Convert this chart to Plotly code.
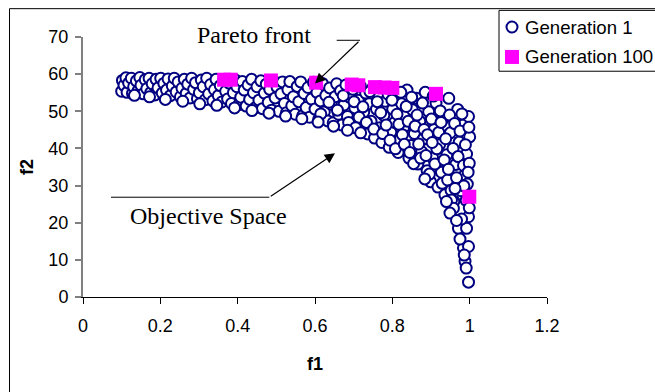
import plotly.graph_objects as go

# ---- data -------------------------------------------------------------
# Generation 1 population (objective space)
gen1_f1 = [
    0.100, 0.102, 0.106, 0.111, 0.114, 0.118, 0.125, 0.128, 0.131, 0.138,
    0.142, 0.147, 0.150, 0.156, 0.161, 0.165, 0.171, 0.175, 0.179, 0.186,
    0.189, 0.194, 0.201, 0.205, 0.209, 0.216, 0.220, 0.226, 0.231, 0.236,
    0.241, 0.246, 0.252, 0.256, 0.262, 0.267, 0.271, 0.277, 0.281, 0.286,
    0.291, 0.296, 0.301, 0.306, 0.311, 0.316, 0.320, 0.325, 0.330, 0.336,
    0.340, 0.344, 0.350, 0.355, 0.359, 0.364, 0.369, 0.374, 0.378, 0.384,
    0.389, 0.393, 0.398, 0.403, 0.408, 0.412, 0.417, 0.422, 0.427, 0.431,
    0.436, 0.441, 0.446, 0.450, 0.455, 0.460, 0.464, 0.469, 0.474, 0.479,
    0.483, 0.488, 0.493, 0.497, 0.502, 0.507, 0.512, 0.516, 0.521, 0.526,
    0.530, 0.535, 0.540, 0.544, 0.549, 0.554, 0.558, 0.563, 0.568, 0.572,
    0.577, 0.582, 0.586, 0.591, 0.596, 0.600, 0.605, 0.610, 0.614, 0.619,
    0.624, 0.628, 0.633, 0.638, 0.642, 0.647, 0.652, 0.656, 0.661, 0.666,
    0.670, 0.675, 0.680, 0.684, 0.689, 0.694, 0.698, 0.703, 0.708, 0.712,
    0.717, 0.722, 0.726, 0.731, 0.736, 0.740, 0.745, 0.750, 0.754, 0.759,
    0.764, 0.768, 0.773, 0.778, 0.782, 0.787, 0.792, 0.796, 0.801, 0.806,
    0.810, 0.815, 0.820, 0.824, 0.829, 0.834, 0.838, 0.843, 0.848, 0.852,
    0.857, 0.862, 0.866, 0.871, 0.876, 0.880, 0.885, 0.890, 0.894, 0.899,
    0.904, 0.908, 0.913, 0.918, 0.922, 0.927, 0.932, 0.936, 0.941, 0.946,
    0.950, 0.955, 0.959, 0.964, 0.969, 0.973, 0.978, 0.983, 0.987, 0.992,
    0.997, 1.000,
    0.615, 0.636, 0.658, 0.673, 0.687, 0.701, 0.714, 0.705,
    0.724, 0.733, 0.742, 0.752, 0.761, 0.770, 0.775, 0.784, 0.789, 0.794,
    0.799, 0.808, 0.812, 0.817, 0.822, 0.826, 0.831, 0.836, 0.841, 0.845,
    0.850, 0.855, 0.859, 0.864, 0.868, 0.873, 0.878, 0.882, 0.887, 0.891,
    0.896, 0.901, 0.906, 0.910, 0.915, 0.920, 0.924, 0.929, 0.934, 0.938,
    0.943, 0.948, 0.952, 0.957, 0.961, 0.966, 0.970, 0.975, 0.980, 0.984,
    0.989, 0.994, 0.998, 0.999, 0.996, 0.991, 0.985, 0.962, 0.945, 0.926,
    0.903, 0.884,
    0.953, 0.958, 0.949, 0.940, 0.971, 0.992, 0.984, 0.997, 0.988, 0.991,
    0.997, 0.997, 0.979, 0.966, 0.975, 0.986, 0.999,
    0.133, 0.172, 0.213, 0.258, 0.302, 0.346, 0.392, 0.437, 0.481, 0.524,
    0.566, 0.608, 0.648, 0.684, 0.718,
]
gen1_f2 = [
    55.4, 58.3, 57.0, 59.0, 55.1, 57.6, 58.9, 54.8, 56.6, 58.2,
    55.5, 59.1, 57.0, 54.7, 58.5, 56.1, 58.9, 55.0, 57.4, 54.4,
    58.6, 56.3, 58.9, 54.9, 57.5, 55.7, 58.7, 54.2, 56.8, 58.9,
    55.2, 57.9, 53.9, 56.2, 58.6, 54.8, 57.3, 53.6, 58.9, 55.9,
    57.7, 53.4, 55.0, 58.4, 56.6, 53.1, 58.9, 54.7, 57.2, 52.8,
    55.8, 58.6, 54.2, 56.9, 52.5, 58.4, 55.4, 53.3, 57.6, 52.1,
    55.0, 58.5, 56.6, 51.8, 53.8, 58.0, 55.7, 51.4, 57.1, 53.2,
    58.6, 55.0, 51.0, 56.6, 53.0, 58.2, 50.7, 54.9, 57.3, 52.4,
    55.9, 50.3, 58.1, 53.6, 56.5, 50.0, 54.7, 57.9, 52.1, 49.6,
    55.8, 58.0, 51.5, 53.9, 49.2, 56.7, 52.6, 57.9, 48.8, 54.8,
    51.0, 56.4, 48.4, 53.3, 57.8, 50.6, 55.1, 47.9, 52.8, 57.5,
    49.8, 54.3, 47.4, 56.3, 51.9, 46.9, 53.9, 57.4, 49.2, 55.5,
    46.3, 51.7, 57.1, 48.6, 53.8, 45.7, 55.9, 50.9, 47.7, 53.0,
    56.8, 45.0, 49.8, 54.9, 43.9, 52.0, 47.3, 56.4, 42.8, 50.6,
    54.0, 45.6, 41.6, 48.9, 52.7, 56.1, 40.3, 44.4, 50.6, 47.0,
    54.4, 38.9, 42.4, 52.0, 45.6, 48.8, 55.7, 37.4, 40.8, 50.4,
    44.0, 53.5, 35.8, 47.3, 39.1, 42.5, 55.1, 34.0, 49.9, 31.0,
    37.5, 45.1, 52.2, 29.6, 41.0, 33.6, 48.0, 27.5, 38.3, 53.5,
    44.2, 30.9, 25.8, 35.7, 50.5, 41.7, 28.6, 46.3, 32.8, 38.5,
    48.6, 43.1,
    49.3, 52.4, 50.3, 54.2, 47.0, 52.6, 48.4, 45.6,
    51.2, 47.0, 55.3, 45.2, 52.6, 49.6, 44.0, 46.3, 54.6, 42.2,
    53.0, 39.9, 49.2, 46.5, 55.1, 43.7, 41.1, 51.3, 47.3, 38.9,
    53.8, 35.9, 46.0, 49.0, 41.2, 37.4, 52.2, 45.1, 38.1, 43.7,
    33.1, 47.9, 54.1, 35.8, 39.9, 44.3, 50.1, 30.6, 36.9, 42.6,
    31.5, 49.0, 28.7, 40.0, 46.7, 32.1, 37.8, 44.7, 49.3, 35.4,
    41.0, 30.4, 45.7, 36.0, 33.6, 26.0, 29.9, 29.2, 34.4, 47.0,
    41.6, 31.8,
    26.1, 23.9, 22.6, 25.7, 18.5, 18.5, 13.2, 13.6, 9.6, 7.8,
    4.0, 21.6, 21.0, 20.6, 15.6, 11.3, 24.0,
    54.3, 53.9, 53.2, 52.7, 52.0, 51.6, 50.9, 50.2, 49.5, 48.7,
    48.0, 47.1, 46.0, 44.9, 44.2,
]

# Generation 100 population (converged onto the Pareto front)
gen100_f1 = [0.365, 0.382, 0.486, 0.603, 0.695, 0.712, 0.755, 0.780, 0.800, 0.913, 0.999]
gen100_f2 = [58.5, 58.5, 58.3, 57.7, 57.2, 57.0, 56.5, 56.4, 56.3, 54.7, 27.0]

x_tickvals = [0, 0.2, 0.4, 0.6, 0.8, 1.0, 1.2]
x_ticktext = ["0", "0.2", "0.4", "0.6", "0.8", "1", "1.2"]
y_tickvals = [0, 10, 20, 30, 40, 50, 60, 70]
y_ticktext = ["0", "10", "20", "30", "40", "50", "60", "70"]

series_names = ["Generation 1", "Generation 100"]

# ---- layout geometry (pixels) -------------------------------------------
W, H = 655, 392
L, R, T, B = 83, 108, 36.7, 94.7
PW, PH = W - L - R, H - T - B
X_MAX, Y_MAX = 1.2, 70

NAVY = "#000080"
MAGENTA = "#FF00FF"
SANS = "Arial, 'Liberation Sans', sans-serif"
SERIF = "'Times New Roman', 'Liberation Serif', serif"


def px_x(px):
    """pixel column -> f1 data value"""
    return (px - L) / PW * X_MAX


def px_y(py):
    """pixel row -> f2 data value"""
    return (H - B - py) / PH * Y_MAX


def paper_x(px):
    return (px - L) / PW


def paper_y(py):
    return (H - B - py) / PH


fig = go.Figure()

fig.add_trace(go.Scatter(
    x=gen1_f1, y=gen1_f2, mode="markers", name=series_names[0],
    marker=dict(symbol="circle", size=11, color="white",
                line=dict(color=NAVY, width=2)),
    showlegend=False, hoverinfo="x+y",
))
fig.add_trace(go.Scatter(
    x=gen100_f1, y=gen100_f2, mode="markers", name=series_names[1],
    marker=dict(symbol="square", size=14, color=MAGENTA, line=dict(width=0)),
    showlegend=False, hoverinfo="x+y",
))

shapes = []
annotations = []

# chart-area frame
shapes.append(dict(type="rect", xref="paper", yref="paper",
                   x0=paper_x(9.5), x1=paper_x(W + 50),
                   y0=paper_y(H + 50), y1=paper_y(8.3),
                   line=dict(color="black", width=1), fillcolor="rgba(0,0,0,0)",
                   layer="below"))

# callout: Pareto front
shapes.append(dict(type="line", xref="x", yref="y",
                   x0=px_x(336.7), y0=px_y(40), x1=px_x(360), y1=px_y(40),
                   line=dict(color="black", width=1)))
annotations.append(dict(x=px_x(315), y=px_y(83.3), xref="x", yref="y",
                        ax=px_x(360), ay=px_y(40), axref="x", ayref="y",
                        text="", showarrow=True, arrowhead=2, arrowsize=1.7,
                        arrowwidth=1.2, arrowcolor="black"))
annotations.append(dict(x=paper_x(254), y=paper_y(35), xref="paper", yref="paper",
                        text="Pareto front", showarrow=False,
                        xanchor="center", yanchor="middle",
                        font=dict(family=SERIF, size=24, color="black")))

# callout: Objective Space
shapes.append(dict(type="line", xref="x", yref="y",
                   x0=px_x(111), y0=px_y(197.3), x1=px_x(269.3), y1=px_y(197.3),
                   line=dict(color="black", width=1)))
annotations.append(dict(x=px_x(335), y=px_y(153.3), xref="x", yref="y",
                        ax=px_x(269.3), ay=px_y(197.3), axref="x", ayref="y",
                        text="", showarrow=True, arrowhead=2, arrowsize=1.7,
                        arrowwidth=1.2, arrowcolor="black"))
annotations.append(dict(x=px_x(208.5), y=px_y(216), xref="x", yref="y",
                        text="Objective Space", showarrow=False,
                        font=dict(family=SERIF, size=24, color="black")))

# legend box
shapes.append(dict(type="rect", xref="paper", yref="paper",
                   x0=paper_x(499), x1=paper_x(W + 30),
                   y0=paper_y(71), y1=paper_y(10),
                   line=dict(color="black", width=1), fillcolor="white"))
shapes.append(dict(type="circle", xref="paper", yref="paper",
                   xsizemode="pixel", ysizemode="pixel",
                   xanchor=paper_x(512), yanchor=paper_y(26.7),
                   x0=-5.5, x1=5.5, y0=-5.5, y1=5.5,
                   line=dict(color=NAVY, width=2), fillcolor="white"))
shapes.append(dict(type="rect", xref="paper", yref="paper",
                   xsizemode="pixel", ysizemode="pixel",
                   xanchor=paper_x(512), yanchor=paper_y(56.7),
                   x0=-7, x1=7, y0=-7, y1=7,
                   line=dict(width=0), fillcolor=MAGENTA))
for name, py in zip(series_names, [26.7, 56.7]):
    annotations.append(dict(x=paper_x(523), y=paper_y(py), xref="paper", yref="paper",
                            xanchor="left", yanchor="middle", text=name,
                            showarrow=False,
                            font=dict(family=SANS, size=18.6, color="black")))

fig.update_layout(
    width=W, height=H,
    margin=dict(l=L, r=R, t=T, b=B, autoexpand=False),
    paper_bgcolor="white", plot_bgcolor="white",
    showlegend=False,
    shapes=shapes, annotations=annotations,
    font=dict(family=SANS, size=18, color="black"),
)
fig.update_xaxes(
    range=[0, X_MAX], tickvals=x_tickvals, ticktext=x_ticktext,
    showgrid=False, zeroline=False,
    showline=True, linecolor="black", linewidth=1,
    ticks="outside", ticklen=6, tickcolor="black", tickwidth=1,
    ticklabelstandoff=6,
    tickfont=dict(family=SANS, size=18),
    title=dict(text="<b>f1</b>", font=dict(family=SANS, size=18), standoff=22),
)
fig.update_yaxes(
    range=[0, Y_MAX], tickvals=y_tickvals, ticktext=y_ticktext,
    showgrid=False, zeroline=False,
    showline=True, linecolor="#808080", linewidth=2,
    ticks="outside", ticklen=6, tickcolor="#808080", tickwidth=1.5,
    ticklabelstandoff=3,
    tickfont=dict(family=SANS, size=18),
    title=dict(text="<b>f2</b>", font=dict(family=SANS, size=18), standoff=10),
)

fig.write_html("out.html")
